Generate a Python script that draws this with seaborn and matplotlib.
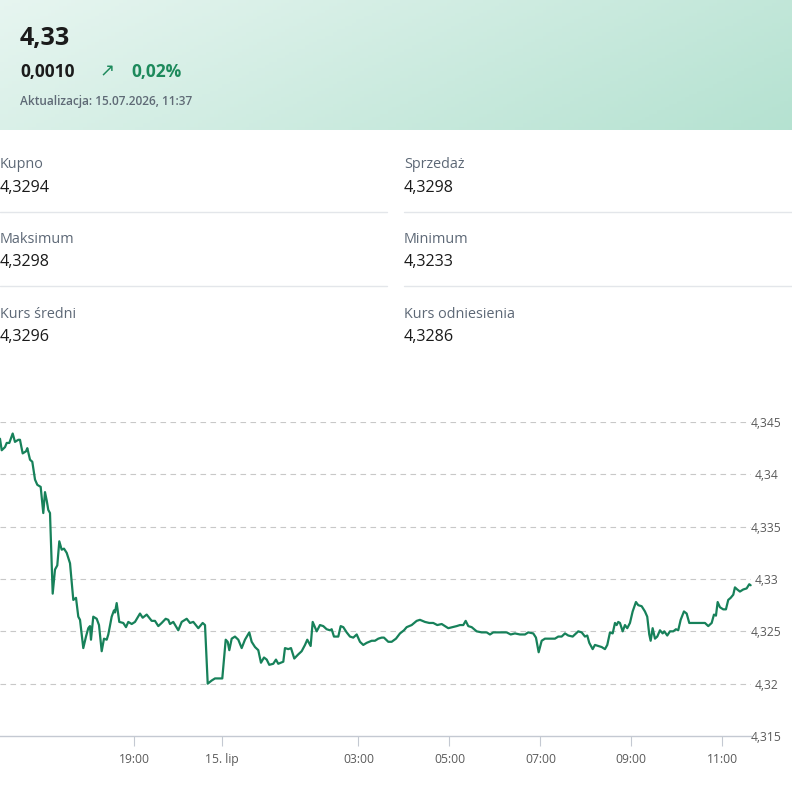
import numpy as np
import pandas as pd
import seaborn as sns
import matplotlib
matplotlib.use("Agg")
from matplotlib import pyplot as plt
from matplotlib.lines import Line2D

# quote positions on the (ordinal) time axis, in hours, and EUR/PLN mid rate
t = [0.000, 0.038, 0.111, 0.149, 0.207, 0.282, 0.333, 0.407, 0.444, 0.504,
     0.578, 0.607, 0.667, 0.718, 0.778, 0.829, 0.904, 0.962, 1.000, 1.038,
     1.073, 1.111, 1.171, 1.222, 1.273, 1.318, 1.371, 1.422, 1.482, 1.556,
     1.629, 1.689, 1.740, 1.778, 1.851, 1.911, 1.962, 2.000, 2.022, 2.073,
     2.149, 2.200, 2.260, 2.311, 2.371, 2.407, 2.482, 2.533, 2.556, 2.593,
     2.651, 2.740, 2.800, 2.851, 2.927, 3.000, 3.111, 3.171, 3.260, 3.371,
     3.444, 3.518, 3.593, 3.682, 3.740, 3.778, 3.851, 3.962, 4.038, 4.149,
     4.222, 4.296, 4.407, 4.504, 4.556, 4.616, 4.704, 4.778, 4.940, 5.016,
     5.060, 5.096, 5.149, 5.222, 5.296, 5.371, 5.444, 5.540, 5.593, 5.667,
     5.740, 5.800, 5.867, 5.927, 5.984, 6.073, 6.133, 6.184, 6.296, 6.333,
     6.407, 6.467, 6.540, 6.629, 6.704, 6.778, 6.829, 6.904, 6.949, 7.038,
     7.111, 7.184, 7.260, 7.333, 7.371, 7.422, 7.518, 7.571, 7.629, 7.704,
     7.778, 7.851, 7.927, 8.000, 8.073, 8.149, 8.260, 8.333, 8.407, 8.482,
     8.533, 8.629, 8.704, 8.800, 8.889, 8.978, 9.038, 9.149, 9.260, 9.333,
     9.444, 9.540, 9.629, 9.718, 9.816, 9.889, 9.962, 10.060, 10.149, 10.222,
     10.296, 10.349, 10.407, 10.482, 10.593, 10.704, 10.816, 10.889, 10.962, 11.111,
     11.260, 11.349, 11.444, 11.556, 11.667, 11.740, 11.851, 11.911, 11.971, 12.038,
     12.111, 12.222, 12.333, 12.407, 12.482, 12.556, 12.629, 12.727, 12.778, 12.851,
     12.927, 13.000, 13.051, 13.096, 13.171, 13.222, 13.296, 13.371, 13.444, 13.496,
     13.556, 13.616, 13.667, 13.704, 13.740, 13.778, 13.838, 13.889, 13.940, 14.000,
     14.060, 14.133, 14.184, 14.260, 14.333, 14.384, 14.429, 14.460, 14.504, 14.556,
     14.607, 14.667, 14.727, 14.762, 14.829, 14.889, 14.962, 15.022, 15.073, 15.127,
     15.200, 15.260, 15.318, 15.371, 15.482, 15.571, 15.667, 15.740, 15.816, 15.867,
     15.911, 15.949, 16.000, 16.073, 16.133, 16.184, 16.238, 16.296, 16.333, 16.384,
     16.444, 16.518, 16.593, 16.651, 16.682]

kurs = [4.3434, 4.3423, 4.3426, 4.3430, 4.3430, 4.3439, 4.3431, 4.3433, 4.3433, 4.3420,
        4.3422, 4.3425, 4.3414, 4.3412, 4.3395, 4.3390, 4.3388, 4.3363, 4.3383, 4.3375,
        4.3366, 4.3363, 4.3286, 4.3309, 4.3313, 4.3336, 4.3328, 4.3329, 4.3325, 4.3315,
        4.3280, 4.3282, 4.3264, 4.3261, 4.3234, 4.3245, 4.3253, 4.3255, 4.3242, 4.3264,
        4.3262, 4.3256, 4.3231, 4.3243, 4.3242, 4.3247, 4.3264, 4.3270, 4.3268, 4.3277,
        4.3259, 4.3258, 4.3254, 4.3259, 4.3257, 4.3259, 4.3267, 4.3263, 4.3266, 4.3260,
        4.3260, 4.3255, 4.3258, 4.3262, 4.3261, 4.3257, 4.3259, 4.3251, 4.3259, 4.3262,
        4.3258, 4.3259, 4.3253, 4.3258, 4.3256, 4.3200, 4.3203, 4.3205, 4.3205, 4.3242,
        4.3240, 4.3232, 4.3243, 4.3245, 4.3242, 4.3234, 4.3242, 4.3249, 4.3240, 4.3235,
        4.3232, 4.3220, 4.3225, 4.3223, 4.3218, 4.3219, 4.3223, 4.3219, 4.3221, 4.3234,
        4.3233, 4.3234, 4.3224, 4.3228, 4.3231, 4.3237, 4.3242, 4.3236, 4.3259, 4.3250,
        4.3256, 4.3255, 4.3252, 4.3251, 4.3252, 4.3245, 4.3245, 4.3255, 4.3254, 4.3249,
        4.3245, 4.3244, 4.3247, 4.3240, 4.3237, 4.3239, 4.3241, 4.3241, 4.3243, 4.3244,
        4.3244, 4.3240, 4.3240, 4.3243, 4.3248, 4.3251, 4.3254, 4.3256, 4.3260, 4.3261,
        4.3259, 4.3258, 4.3258, 4.3256, 4.3257, 4.3255, 4.3253, 4.3254, 4.3255, 4.3256,
        4.3256, 4.3260, 4.3255, 4.3254, 4.3250, 4.3249, 4.3249, 4.3247, 4.3249, 4.3249,
        4.3249, 4.3247, 4.3248, 4.3247, 4.3247, 4.3249, 4.3248, 4.3244, 4.3230, 4.3241,
        4.3243, 4.3243, 4.3243, 4.3245, 4.3245, 4.3248, 4.3246, 4.3245, 4.3247, 4.3250,
        4.3249, 4.3245, 4.3246, 4.3239, 4.3233, 4.3237, 4.3236, 4.3235, 4.3233, 4.3237,
        4.3249, 4.3248, 4.3258, 4.3256, 4.3259, 4.3258, 4.3250, 4.3256, 4.3253, 4.3258,
        4.3269, 4.3278, 4.3275, 4.3274, 4.3269, 4.3264, 4.3247, 4.3241, 4.3253, 4.3243,
        4.3245, 4.3251, 4.3248, 4.3250, 4.3246, 4.3250, 4.3250, 4.3252, 4.3251, 4.3261,
        4.3269, 4.3267, 4.3258, 4.3258, 4.3258, 4.3258, 4.3258, 4.3255, 4.3258, 4.3266,
        4.3265, 4.3278, 4.3273, 4.3271, 4.3271, 4.3280, 4.3282, 4.3285, 4.3292, 4.3290,
        4.3288, 4.3290, 4.3291, 4.3295, 4.3294]

x_ticks = [2.978, 4.933, 7.967, 9.989, 12.011, 14.029, 16.049]
x_labels = ["19:00", "15. lip", "03:00", "05:00", "07:00", "09:00", "11:00"]
y_ticks = [4.315, 4.32, 4.325, 4.33, 4.335, 4.34, 4.345]
y_labels = ["4,315", "4,32", "4,325", "4,33", "4,335", "4,34", "4,345"]

kurs_teraz = "4,33"
zmiana = "0,0010"
zmiana_proc = "0,02%"
aktualizacja = "Aktualizacja: 15.07.2026, 11:37"
pola = [("Kupno", "4,3294"), ("Sprzedaż", "4,3298"),
        ("Maksimum", "4,3298"), ("Minimum", "4,3233"),
        ("Kurs średni", "4,3296"), ("Kurs odniesienia", "4,3286")]

sns.set_theme(style="white")
plt.rcParams["font.family"] = ["Open Sans", "DejaVu Sans"]

W, H = 792, 790
fig = plt.figure(figsize=(W / 100, H / 100), dpi=100)
fig.patch.set_facecolor("white")


def fx(px):
    return px / W


def fy(py):
    return 1 - py / H


# header with soft green gradient
hdr = fig.add_axes([0, fy(130), 1, 130 / H])
gx = np.linspace(0, 1, 200)
gy = np.linspace(0, 1, 40)
gg = 0.75 * gx[None, :] + 0.25 * gy[:, None]
c0 = np.array([0.905, 0.962, 0.942])
c1 = np.array([0.710, 0.886, 0.820])
img = c0[None, None, :] + gg[:, :, None] * (c1 - c0)[None, None, :]
hdr.imshow(img, aspect="auto", extent=[0, 1, 1, 0])
hdr.set_axis_off()

fig.text(fx(20), fy(38), kurs_teraz, fontsize=18, fontweight="bold", color="#1b1b1b", va="center")
fig.text(fx(20), fy(72), zmiana, fontsize=12.5, fontweight="bold", color="#1b1b1b", va="center")
fig.text(fx(99), fy(71), "↗", fontsize=13, color="#1d8a5c", va="center", family=["DejaVu Sans"])
fig.text(fx(131), fy(72), zmiana_proc, fontsize=12.5, fontweight="bold", color="#1d8a5c", va="center")
fig.text(fx(20), fy(102), aktualizacja, fontsize=8.6, fontweight="semibold", color="#5f6a76", va="center")

# key figures in two columns
for i, (lab, val) in enumerate(pola):
    col = i % 2
    row = i // 2
    x0 = 0 if col == 0 else 404
    ly = 163 + row * 74.5
    fig.text(fx(x0), fy(ly + 2), lab, fontsize=10.4, color="#5d6876", va="center")
    fig.text(fx(x0), fy(ly + 25), val, fontsize=11.6, color="#1b1b1b", va="center")
    if row < 2:
        x1 = 387 if col == 0 else 792
        fig.add_artist(Line2D([fx(x0), fx(x1)], [fy(ly + 49), fy(ly + 49)],
                              color="#e3e6ea", lw=1, transform=fig.transFigure))

# chart
ax = fig.add_axes([0, fy(736), fx(751), 314 / H])
df = pd.DataFrame({"t": t, "kurs": kurs})
sns.lineplot(data=df, x="t", y="kurs", ax=ax, color="#17815a", linewidth=1.6, clip_on=False)
ax.set_xlim(0, 16.69)
ax.set_ylim(4.315, 4.345)
ax.set_xlabel("")
ax.set_ylabel("")
for s in ["top", "left", "right"]:
    ax.spines[s].set_visible(False)
ax.spines["bottom"].set_color("#c4c9d2")
ax.spines["bottom"].set_linewidth(1)

ax.set_yticks(y_ticks)
ax.set_yticklabels(y_labels)
ax.yaxis.tick_right()
ax.tick_params(axis="y", length=0, pad=11.2, labelsize=8.7, labelcolor="#5a5a5a")
for lab in ax.get_yticklabels():
    lab.set_horizontalalignment("center")
for yv in y_ticks[1:]:
    ax.axhline(yv, color="#c8c8c8", lw=0.8, ls=(0, (5, 4)), zorder=0)

ax.set_xticks(x_ticks)
ax.set_xticklabels(x_labels)
ax.tick_params(axis="x", bottom=True, length=7, width=0.8, color="#c4c9d2",
               pad=5, labelsize=8.7, labelcolor="#5a5a5a")
ax.grid(False)
ax.set_facecolor("none")

fig.savefig("out.png", dpi=100)
